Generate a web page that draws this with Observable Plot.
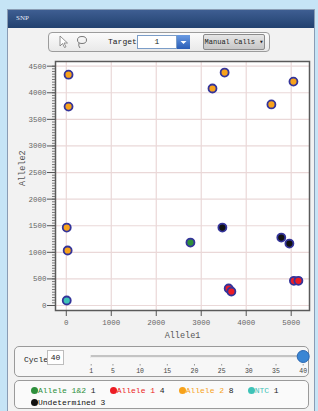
<!DOCTYPE html>
<html><head><meta charset="utf-8">
<script src="https://cdn.jsdelivr.net/npm/d3@7"></script>
<script src="https://cdn.jsdelivr.net/npm/@observablehq/plot@0.6"></script>
<style>
html,body{margin:0;padding:0;}
body{width:318px;height:411px;background:#c6e4f6;position:relative;overflow:hidden;font-family:"Liberation Mono","DejaVu Sans Mono",monospace;color:#222;}
.abs{position:absolute;}
#win{left:7px;top:9px;width:308px;height:404px;background:#f2f2f2;border:1px solid #8a9cb4;box-sizing:border-box;}
#title{left:8px;top:10px;width:306px;height:18px;background:linear-gradient(#3e5e92,#22416f);}
#titleText{left:16px;top:14px;font:7px "Liberation Serif",serif;color:#e6ecf6;}
#toolbar{left:48px;top:32px;width:222px;height:20px;border:1px solid #9c9c9c;border-radius:4px;background:linear-gradient(#fbfbfb,#e9e9e9);box-sizing:border-box;}
#target{left:108px;top:37px;font-size:8px;}
#tin{left:137px;top:35px;width:40px;height:14px;background:#fff;border:1px solid #7b9dc8;box-sizing:border-box;font-size:8px;text-align:center;line-height:12px;}
#tbtn{left:177px;top:35px;width:13px;height:14px;background:linear-gradient(#6a9be3,#2a5db6);}
#manual{left:203px;top:34px;width:62px;height:16px;border:1px solid #8a8a8a;border-radius:2px;background:linear-gradient(#e6e6e6,#c6c6c6);box-sizing:border-box;font-size:7px;line-height:14px;text-align:center;white-space:nowrap;}
#chart{left:0;top:55px;}
#sliderPanel{left:14px;top:346px;width:295px;height:31px;border:1px solid #9a9a9a;border-radius:5px;background:#f7f7f7;box-sizing:border-box;}
#cycleLbl{left:24px;top:355px;font-size:8px;}
#cycleBox{left:47px;top:350px;width:17px;height:15px;border:1px solid #bdbdbd;background:#fff;box-sizing:border-box;font-size:8px;text-align:center;line-height:13px;}
#slider{left:0;top:346px;}
#legend{left:14px;top:380px;width:295px;height:29px;border:1px solid #9a9a9a;border-radius:5px;background:#fafafa;box-sizing:border-box;padding:3px 0 0 16px;display:flex;flex-wrap:wrap;column-gap:14px;row-gap:0px;font-size:8px;line-height:11px;}
.item{display:flex;align-items:center;white-space:pre;}
.sw{width:7px;height:7px;border-radius:50%;margin-right:0px;}
</style></head>
<body>
<div id="win" class="abs"></div>
<div id="title" class="abs"></div>
<div id="titleText" class="abs">SNP</div>
<div id="toolbar" class="abs"></div>
<svg class="abs" style="left:58px;top:35px" width="34" height="14">
  <path d="M2 1 L2 11 L4.5 8.5 L6.5 12.5 L8 11.8 L6 8 L9.5 8 Z" fill="#fff" stroke="#777" stroke-width="0.8"/>
  <ellipse cx="24" cy="5" rx="4.5" ry="3.5" fill="none" stroke="#777" stroke-width="1"/>
  <path d="M21 8 Q20 11 22 13" fill="none" stroke="#777" stroke-width="1"/>
</svg>
<div id="target" class="abs">Target</div>
<div id="tin" class="abs">1</div>
<div id="tbtn" class="abs"><svg width="13" height="14"><path d="M3.5 6 L9.5 6 L6.5 9 Z" fill="#fff"/></svg></div>
<div id="manual" class="abs">Manual Calls ▾</div>
<div id="chart" class="abs"></div>
<div id="sliderPanel" class="abs"></div>
<div id="cycleLbl" class="abs">Cycle</div>
<div id="cycleBox" class="abs">40</div>
<div id="slider" class="abs"></div>
<div id="legend" class="abs"></div>
<script>
// ---- data ----
const allele1 = [50, 50, 10, 30, 10, 3250, 3520, 4560, 5050, 2760, 3470, 4780, 4960, 3610, 3670, 5060, 5160];
const allele2 = [4340, 3740, 1466, 1034, 94, 4080, 4380, 3780, 4210, 1184, 1466, 1278, 1165, 320, 263, 464, 464];
const calls = ["Allele 2","Allele 2","Allele 2","Allele 2","NTC","Allele 2","Allele 2","Allele 2","Allele 2","Allele 1&2","Undetermined","Undetermined","Undetermined","Allele 1","Allele 1","Allele 1","Allele 1"];
const categories = ["Allele 1&2", "Allele 1", "Allele 2", "NTC", "Undetermined"];
const catColors = ["#2e8f3c", "#ec1c24", "#f7a21b", "#3ec3b8", "#111111"];
const xTicks = [0, 1000, 2000, 3000, 4000, 5000];
const yTicks = [0, 500, 1000, 1500, 2000, 2500, 3000, 3500, 4000, 4500];
const cycleTicks = [1, 5, 10, 15, 20, 25, 30, 35, 40];
const currentCycle = 40;
const xLabel = "Allele1";
const yLabel = "Allele2";

const points = allele1.map((x, i) => ({x, y: allele2[i], call: calls[i]}));
const yMinor = d3.range(0, 4501, 50);
const fmt = d => String(d);

const chart = Plot.plot({
  width: 318, height: 290,
  marginLeft: 55, marginRight: 9, marginTop: 6, marginBottom: 35,
  style: {fontFamily: '"Liberation Mono", monospace', background: "transparent", overflow: "visible"},
  x: {domain: [-240, 5407]},
  y: {domain: [-94, 4588]},
  color: {domain: categories, range: catColors},
  marks: [
    Plot.frame({fill: "#ffffff", stroke: null}),
    Plot.gridX(xTicks, {stroke: "#ead8d8", strokeOpacity: 1, strokeWidth: 1.2}),
    Plot.gridY(yTicks, {stroke: "#ead8d8", strokeOpacity: 1, strokeWidth: 1.2}),
    Plot.frame({stroke: "#5a5a5a", strokeWidth: 1.5}),
    Plot.axisY(yMinor, {tickSize: 3, text: null, stroke: "#777", label: null}),
    Plot.axisY(yTicks, {tickSize: 8, tickPadding: 1, fontSize: 7.5, fill: "#666", stroke: "#555", tickFormat: fmt, label: null}),
    Plot.axisX(xTicks, {tickSize: 6, tickPadding: 3, fontSize: 7.5, fill: "#666", stroke: "#555", tickFormat: fmt, label: null}),
    Plot.text([yLabel], {frameAnchor: "left", dx: -33, rotate: -90, fontSize: 8.5, fill: "#555"}),
    Plot.text([xLabel], {frameAnchor: "bottom", dy: 27, fontSize: 8.5, fill: "#555"}),
    Plot.dot(points, {x: "x", y: "y", fill: "call", r: 4, stroke: "#34349a", strokeWidth: 1.8})
  ]
});
document.getElementById("chart").append(chart);

const slider = Plot.plot({
  width: 318, height: 31,
  marginLeft: 90.7, marginRight: 15.3, marginTop: 10, marginBottom: 13,
  style: {fontFamily: '"Liberation Mono", monospace', background: "transparent", overflow: "visible"},
  x: {domain: [cycleTicks[0], cycleTicks[cycleTicks.length - 1]]},
  y: {domain: [0, 1], axis: null},
  marks: [
    Plot.ruleY([1], {x1: cycleTicks[0], x2: cycleTicks[cycleTicks.length - 1], stroke: "#c4c4c4", strokeWidth: 3}),
    Plot.ruleY([1], {x1: cycleTicks[0], x2: cycleTicks[cycleTicks.length - 1], stroke: "#eeeeee", strokeWidth: 1, dy: 1}),
    Plot.axisX(cycleTicks, {anchor: "bottom", tickSize: 1.5, tickPadding: 2, fontSize: 6.5, fill: "#444", stroke: "#999", label: null}),
    Plot.dot([currentCycle], {x: d => d, y: () => 1, r: 6, fill: "#3a86d4", stroke: "#2a66b0", strokeWidth: 1})
  ]
});
document.getElementById("slider").append(slider);

const counts = d3.rollup(calls, v => v.length, d => d);
const legend = document.getElementById("legend");
categories.forEach((c, i) => {
  const it = document.createElement("div"); it.className = "item";
  const sw = document.createElement("span"); sw.className = "sw"; sw.style.background = catColors[i];
  const t = document.createElement("span"); t.textContent = c; t.style.color = catColors[i];
  const n = document.createElement("span"); n.textContent = " " + (counts.get(c) || 0); n.style.color = "#222";
  it.append(sw, t, n); legend.append(it);
});
</script>
</body></html>
